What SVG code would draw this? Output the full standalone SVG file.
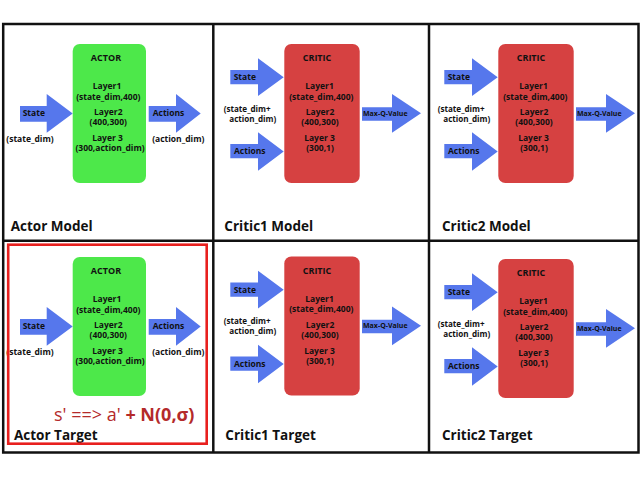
<svg xmlns="http://www.w3.org/2000/svg" width="640" height="482" viewBox="0 0 640 482">
<style>
text{font-family:"Open Sans","DejaVu Sans",sans-serif;font-weight:bold;fill:#111}
.s{font-size:8.5px}
.d{font-size:8.1px}
.h{font-size:9px}
.q{font-size:7px}
.t{font-size:13.5px}
.m{text-anchor:middle}
.grid{stroke:#111;stroke-width:2.5;fill:none}
.actor{fill:#4de84a}
.critic{fill:#d64141}
.arr{fill:#5677ec}
</style>
<rect width="640" height="482" fill="#fff"/>

<g id="actor-model">
<rect class="actor" x="72.7" y="44" width="73.3" height="139" rx="7"/>
<text class="h m" x="106" y="61.3">ACTOR</text>
<text class="s m" x="107" y="89.2">Layer1</text>
<text class="s m" x="108.3" y="99.7">(state_dim,400)</text>
<text class="s m" x="108.3" y="115">Layer2</text>
<text class="s m" x="108.3" y="125.3">(400,300)</text>
<text class="s m" x="107.5" y="141">Layer 3</text>
<text class="s m" x="110" y="151.3">(300,action_dim)</text>
</g>

<g id="critic1-model">
<rect class="critic" x="284.3" y="44" width="75.4" height="139" rx="7"/>
<text class="h m" x="317" y="61.3">CRITIC</text>
<text class="s m" x="319.5" y="89.2">Layer1</text>
<text class="s m" x="321.3" y="99.7">(state_dim,400)</text>
<text class="s m" x="320" y="115">Layer2</text>
<text class="s m" x="320" y="125.3">(400,300)</text>
<text class="s m" x="319.5" y="141">Layer 3</text>
<text class="s m" x="320" y="151.3">(300,1)</text>
</g>

<g id="critic2-model" transform="translate(214,0)">
<rect class="critic" x="284.3" y="44" width="75.4" height="139" rx="7"/>
<text class="h m" x="317" y="61.3">CRITIC</text>
<text class="s m" x="319.5" y="89.2">Layer1</text>
<text class="s m" x="321.3" y="99.7">(state_dim,400)</text>
<text class="s m" x="320" y="115">Layer2</text>
<text class="s m" x="320" y="125.3">(400,300)</text>
<text class="s m" x="319.5" y="141">Layer 3</text>
<text class="s m" x="320" y="151.3">(300,1)</text>
</g>

<g id="actor-target" transform="translate(0,213)">
<rect class="actor" x="72.7" y="44" width="73.3" height="139" rx="7"/>
<text class="h m" x="106" y="61.3">ACTOR</text>
<text class="s m" x="107" y="89.2">Layer1</text>
<text class="s m" x="108.3" y="99.7">(state_dim,400)</text>
<text class="s m" x="108.3" y="115">Layer2</text>
<text class="s m" x="108.3" y="125.3">(400,300)</text>
<text class="s m" x="107.5" y="141">Layer 3</text>
<text class="s m" x="110" y="151.3">(300,action_dim)</text>
</g>

<g id="critic1-target" transform="translate(0,212.5)">
<rect class="critic" x="284.3" y="44" width="75.4" height="139" rx="7"/>
<text class="h m" x="317" y="61.3">CRITIC</text>
<text class="s m" x="319.5" y="89.2">Layer1</text>
<text class="s m" x="321.3" y="99.7">(state_dim,400)</text>
<text class="s m" x="320" y="115">Layer2</text>
<text class="s m" x="320" y="125.3">(400,300)</text>
<text class="s m" x="319.5" y="141">Layer 3</text>
<text class="s m" x="320" y="151.3">(300,1)</text>
</g>

<g id="critic2-target" transform="translate(214,215)">
<rect class="critic" x="284.3" y="44" width="75.4" height="139" rx="7"/>
<text class="h m" x="317" y="61.3">CRITIC</text>
<text class="s m" x="319.5" y="89.2">Layer1</text>
<text class="s m" x="321.3" y="99.7">(state_dim,400)</text>
<text class="s m" x="320" y="115">Layer2</text>
<text class="s m" x="320" y="125.3">(400,300)</text>
<text class="s m" x="319.5" y="141">Layer 3</text>
<text class="s m" x="320" y="151.3">(300,1)</text>
</g>

<g id="connectors">
<g transform="translate(0,0)">
<polygon class="arr" points="20,106 46.7,106 46.7,94 72.7,113.4 46.7,132.7 46.7,121.7 20,121.7"/>
<text class="s" x="22.7" y="116.2">State</text>
<text class="s m" x="30" y="141.7">(state_dim)</text>
<polygon class="arr" points="148.7,106 176,106 176,94 200.7,113.4 176,132.7 176,121.7 148.7,121.7"/>
<text class="s" x="152.7" y="116.2">Actions</text>
<text class="s m" x="178.3" y="141.7">(action_dim)</text>
</g>
<g transform="translate(0,213)">
<polygon class="arr" points="20,106 46.7,106 46.7,94 72.7,113.4 46.7,132.7 46.7,121.7 20,121.7"/>
<text class="s" x="22.7" y="116.2">State</text>
<text class="s m" x="30" y="141.7">(state_dim)</text>
<polygon class="arr" points="148.7,106 176,106 176,94 200.7,113.4 176,132.7 176,121.7 148.7,121.7"/>
<text class="s" x="152.7" y="116.2">Actions</text>
<text class="s m" x="178.3" y="141.7">(action_dim)</text>
</g>
<g transform="translate(0,0)">
<polygon class="arr" points="230.3,70 258,70 258,58.3 283.7,77.2 258,96 258,84.3 230.3,84.3"/>
<text class="s" x="233.7" y="80.3">State</text>
<polygon class="arr" points="230.3,144 258,144 258,132.3 283.7,151.5 258,170.7 258,158.3 230.3,158.3"/>
<text class="s" x="234" y="154">Actions</text>
<text class="d" x="223.7" y="111.6">(state_dim+</text>
<text class="d" x="229.3" y="121.8">action_dim)</text>
<polygon class="arr" points="362,107.3 392,107.3 392,94 421,113.3 392,132.7 392,120.7 362,120.7"/>
<text class="q" x="363" y="115.8">Max-Q-Value</text>
</g>
<g transform="translate(214,0)">
<polygon class="arr" points="230.3,70 258,70 258,58.3 283.7,77.2 258,96 258,84.3 230.3,84.3"/>
<text class="s" x="233.7" y="80.3">State</text>
<polygon class="arr" points="230.3,144 258,144 258,132.3 283.7,151.5 258,170.7 258,158.3 230.3,158.3"/>
<text class="s" x="234" y="154">Actions</text>
<text class="d" x="223.7" y="111.6">(state_dim+</text>
<text class="d" x="229.3" y="121.8">action_dim)</text>
<polygon class="arr" points="362,107.3 392,107.3 392,94 421,113.3 392,132.7 392,120.7 362,120.7"/>
<text class="q" x="363" y="115.8">Max-Q-Value</text>
</g>
<g transform="translate(0,212.5)">
<polygon class="arr" points="230.3,70 258,70 258,58.3 283.7,77.2 258,96 258,84.3 230.3,84.3"/>
<text class="s" x="233.7" y="80.3">State</text>
<polygon class="arr" points="230.3,144 258,144 258,132.3 283.7,151.5 258,170.7 258,158.3 230.3,158.3"/>
<text class="s" x="234" y="154">Actions</text>
<text class="d" x="223.7" y="111.6">(state_dim+</text>
<text class="d" x="229.3" y="121.8">action_dim)</text>
<polygon class="arr" points="362,107.3 392,107.3 392,94 421,113.3 392,132.7 392,120.7 362,120.7"/>
<text class="q" x="363" y="115.8">Max-Q-Value</text>
</g>
<g transform="translate(214,215)">
<polygon class="arr" points="230.3,70 258,70 258,58.3 283.7,77.2 258,96 258,84.3 230.3,84.3"/>
<text class="s" x="233.7" y="80.3">State</text>
<polygon class="arr" points="230.3,144 258,144 258,132.3 283.7,151.5 258,170.7 258,158.3 230.3,158.3"/>
<text class="s" x="234" y="154">Actions</text>
<text class="d" x="223.7" y="111.6">(state_dim+</text>
<text class="d" x="229.3" y="121.8">action_dim)</text>
<polygon class="arr" points="362,107.3 392,107.3 392,94 421,113.3 392,132.7 392,120.7 362,120.7"/>
<text class="q" x="363" y="115.8">Max-Q-Value</text>
</g>
</g>

<g id="titles">
<text class="t" x="10.7" y="230.7">Actor Model</text>
<text class="t" x="224.3" y="230.7">Critic1 Model</text>
<text class="t" x="442" y="230.7">Critic2 Model</text>
<text class="t" x="14" y="440">Actor Target</text>
<text class="t" x="225.3" y="439.7">Critic1 Target</text>
<text class="t" x="442" y="439.7">Critic2 Target</text>
</g>

<g id="grid">
<rect class="grid" x="3.2" y="24" width="635.3" height="428.5"/>
<line class="grid" x1="213.3" y1="24" x2="213.3" y2="452.5"/>
<line class="grid" x1="429" y1="24" x2="429" y2="452.5"/>
<line class="grid" x1="3.2" y1="240.7" x2="638.5" y2="240.7"/>
</g>

<g id="highlight">
<rect x="8.2" y="244.7" width="198.5" height="199" fill="none" stroke="#e8201e" stroke-width="2.6"/>
<text x="54" y="420.5" style="font-size:18px;fill:#b42a2a"><tspan style="font-weight:normal">s' ==&gt; a' </tspan><tspan>+ N(0,σ)</tspan></text>
</g>
</svg>
